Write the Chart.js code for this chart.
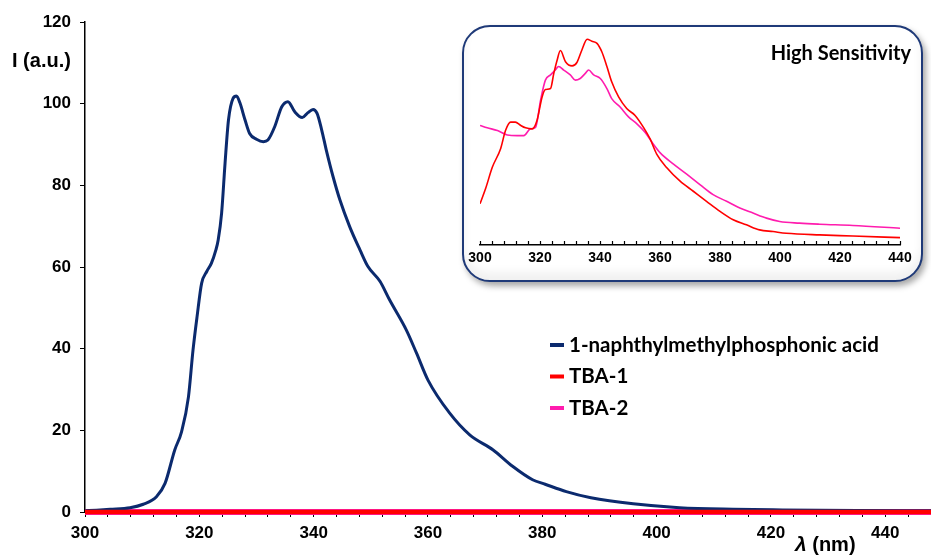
<!DOCTYPE html>
<html>
<head>
<meta charset="utf-8">
<script src="https://cdn.jsdelivr.net/npm/chart.js@4.4.1/dist/chart.umd.min.js"></script>
<style>
  body { margin: 0; background: #fff; }
  #wrap { position: relative; width: 931px; height: 558px; }
  #inset {
    position: absolute; left: 462px; top: 25px; width: 461px; height: 257px;
    box-sizing: border-box; border: 2px solid #1F3A78; border-radius: 28px;
    background: #fff; overflow: hidden;
    box-shadow: 3px 4px 6px rgba(0, 0, 0, 0.35), inset 0 -8px 10px rgba(0, 0, 0, 0.06);
  }
  #inset div { width: 100%; height: 100%; }
</style>
</head>
<body>
<div id="wrap">
  <canvas id="mainChart"></canvas>
  <div id="inset"><div><canvas id="insetChart"></canvas></div></div>
</div>
<script>
// emission spectrum of 1-naphthylmethylphosphonic acid (nm, a.u.)
const naphWl = [300, 302, 304.4, 307.9, 310.2, 312.5, 314, 315.7, 316.9, 318.1,
  318.9, 319.6, 320.4, 321.3, 322.1, 322.9, 323.3, 323.9, 324.5, 325.1,
  325.9, 326.5, 327.1, 328, 328.8, 330, 331.2, 332, 333.2, 334.4,
  335.5, 336.7, 338, 339, 339.9, 340.6, 341.4, 342.2, 343.4, 344.6,
  346.3, 348.1, 349.5, 351.6, 353.3, 356.2, 358, 360, 363.8, 367.3,
  371.4, 374.8, 378.3, 380.5, 384.2, 388.5, 395.9, 404, 413.4, 422,
  435, 448];
const naphI = [0.3, 0.45, 0.66, 1.05, 1.9, 3.75, 7.0, 15.2, 19.7, 28.2,
  39.7, 47.8, 56.0, 58.9, 60.9, 64.2, 66.6, 73.2, 85.4, 96.0,
  101.3, 101.9, 100.2, 96.0, 92.7, 91.3, 90.7, 91.1, 94.4, 99.2,
  100.5, 98.0, 96.6, 97.8, 98.6, 97.6, 93.6, 88.7, 82.1, 76.4,
  69.9, 64.2, 60.1, 56.5, 51.9, 44.6, 38.9, 32.3, 24.2, 18.9,
  15.2, 11.2, 7.9, 6.8, 5.0, 3.5, 2.0, 1.05, 0.66, 0.5,
  0.35, 0.3];

// TBA samples on the common scale: flat at zero
const tbaMainWl = [300, 448];
const tba1MainI = [0, 0];
const tba2MainI = [0, 0];

// high sensitivity traces (relative units)
const tba1Wl = [300, 301.9, 304.1, 306.9, 308.5, 310.2, 311.8, 313.5, 315.2, 317.4,
  319, 320.7, 321.8, 323.5, 324.6, 325.7, 326.8, 328.5, 330.7, 332.3,
  334, 335.7, 337.3, 339, 340.6, 342.3, 343.9, 346.2, 348.9, 351.7,
  354.5, 356.7, 358.9, 362.2, 366.7, 371.1, 375.5, 380, 384.4, 388.8,
  393.2, 397.7, 402.1, 413.2, 424.3, 440];
const tba1I = [19.6, 27, 37, 46, 54.5, 58.5, 58.5, 57, 55.8, 55.3,
  59.3, 70.5, 74, 74.5, 81.7, 88, 92.6, 87.3, 85.3, 86.9,
  93, 98, 97, 96, 92, 85, 77.7, 70.5, 65, 61.7,
  56, 50.5, 43.3, 36.9, 30.4, 25.6, 20.8, 16, 12, 9.6,
  7.2, 6.4, 5.6, 4.8, 4.3, 3.5];
const tba2Wl = [300, 302.4, 305.8, 309.1, 312.4, 314.6, 316.8, 318.5, 320.2, 321.8,
  323.5, 325.1, 326.2, 327.9, 330.1, 331.8, 333.4, 335.1, 336.2, 337.9,
  340.1, 342.3, 343.9, 346.7, 349.5, 352.3, 355, 357.8, 360, 364.5,
  368.9, 373.3, 377.7, 382.2, 386.6, 391, 395.5, 399.9, 406.5, 413.2,
  424.3, 440];
const tba2I = [56.9, 55.8, 54.5, 52.4, 52.1, 52.1, 55.3, 56, 69, 78.5,
  81, 83.3, 85, 83.3, 81, 78.5, 79.3, 81.7, 83.3, 81,
  79.3, 74.5, 69.7, 65.7, 61, 57.7, 53.7, 48, 44, 38.5,
  33.7, 28.8, 24, 20.8, 17.6, 15.2, 12.8, 11.2, 10.4, 9.9,
  9.3, 8];

const xMin = 300;
const xMax = 448;
const insetMax = 440;

const toPoints = (xs, ys) => xs.map((x, i) => ({ x: x, y: ys[i] }));

const navy = "#0B2A6E";
const red = "#FF0000";
const pink = "#FF1CAE";
const tickFont = { family: "'Liberation Sans', Arial, sans-serif", size: 17, weight: "bold" };

// axis titles are horizontal, so they are painted by hand
const axisTitles = {
  id: "axisTitles",
  afterDraw(chart) {
    const c = chart.ctx;
    c.save();
    c.fillStyle = "#000";
    c.textBaseline = "middle";
    c.font = "bold 20px 'Liberation Sans', Arial, sans-serif";
    c.fillText("I (a.u.)", 12, 61);
    let x = 795;
    c.font = "italic bold 21px 'Liberation Sans', Arial, sans-serif";
    c.fillText("λ", x, 545);
    x += c.measureText("λ").width;
    c.font = "bold 20px 'Liberation Sans', Arial, sans-serif";
    c.fillText(" (nm)", x, 545);
    c.restore();
  },
};

const seriesKey = {
  id: "seriesKey",
  afterDraw(chart) {
    const c = chart.ctx;
    c.save();
    c.font = "bold 20.5px Lato, sans-serif";
    c.textBaseline = "middle";
    chart.data.datasets.forEach((ds, i) => {
      const y = 345 + i * 31.5;
      c.fillStyle = ds.borderColor;
      c.fillRect(550, y - 2, 14, 4);
      c.fillStyle = "#000";
      c.fillText(ds.label, 569, y);
    });
    c.restore();
  },
};

// keep the tick label padding from shrinking the plot sideways
const noSidePadding = (scale) => {
  scale.paddingLeft = 0;
  scale.paddingRight = 0;
};

new Chart(document.getElementById("mainChart"), {
  type: "line",
  data: {
    datasets: [
      {
        label: "1-naphthylmethylphosphonic acid",
        data: toPoints(naphWl, naphI),
        borderColor: navy,
        borderWidth: 3,
        cubicInterpolationMode: "monotone",
        order: 1,
      },
      {
        label: "TBA-1",
        data: toPoints(tbaMainWl, tba1MainI),
        borderColor: red,
        borderWidth: 4.5,
        clip: false,
        order: 0,
      },
      {
        label: "TBA-2",
        data: toPoints(tbaMainWl, tba2MainI),
        borderColor: pink,
        borderWidth: 6,
        clip: false,
        order: 2,
      },
    ],
  },
  options: {
    responsive: true,
    maintainAspectRatio: false,
    animation: false,
    elements: { point: { radius: 0 } },
    layout: { padding: { top: 22, right: 0, left: 0, bottom: 0 } },
    plugins: { legend: { display: false }, tooltip: { enabled: false } },
    scales: {
      x: {
        type: "linear",
        min: xMin,
        max: xMax,
        afterFit: (scale) => {
          scale.height = 46;
          noSidePadding(scale);
        },
        grid: { drawOnChartArea: false, tickLength: 5, color: "#000", tickColor: "#000" },
        border: { color: "#000", width: 1.5 },
        ticks: {
          stepSize: 4,
          autoSkip: false,
          maxRotation: 0,
          padding: 6,
          color: "#000",
          font: tickFont,
          callback: (v) => (v % 20 === 0 ? v : ""),
        },
      },
      y: {
        min: 0,
        max: 120,
        afterFit: (scale) => { scale.width = 85; },
        grid: { drawOnChartArea: false, tickLength: 5, color: "#000", tickColor: "#000" },
        border: { color: "#000", width: 1.5 },
        ticks: { stepSize: 20, padding: 9, color: "#000", font: tickFont },
      },
    },
  },
  plugins: [axisTitles, seriesKey],
});

// inset: minor ticks point up into the plot, plus the corner title
const insetExtras = {
  id: "insetExtras",
  afterDraw(chart) {
    const c = chart.ctx;
    const xs = chart.scales.x;
    const base = chart.scales.y.getPixelForValue(0);
    c.save();
    c.strokeStyle = "#000";
    c.lineWidth = 1.2;
    xs.ticks.forEach((t) => {
      const px = Math.round(xs.getPixelForValue(t.value)) + 0.5;
      c.beginPath();
      c.moveTo(px, base);
      c.lineTo(px, base - 4);
      c.stroke();
    });
    c.fillStyle = "#000";
    c.font = "bold 20px Lato, sans-serif";
    c.textAlign = "right";
    c.textBaseline = "middle";
    c.fillText("High Sensitivity", 447, 27);
    c.restore();
  },
};

new Chart(document.getElementById("insetChart"), {
  type: "line",
  data: {
    datasets: [
      {
        label: "TBA-1",
        data: toPoints(tba1Wl, tba1I),
        borderColor: red,
        borderWidth: 1.6,
        cubicInterpolationMode: "monotone",
      },
      {
        label: "TBA-2",
        data: toPoints(tba2Wl, tba2I),
        borderColor: pink,
        borderWidth: 1.6,
        cubicInterpolationMode: "monotone",
      },
    ],
  },
  options: {
    responsive: true,
    maintainAspectRatio: false,
    animation: false,
    elements: { point: { radius: 0 } },
    layout: { padding: { top: 8, right: 21, left: 16, bottom: 0 } },
    plugins: { legend: { display: false }, tooltip: { enabled: false } },
    scales: {
      x: {
        type: "linear",
        min: xMin,
        max: insetMax,
        afterFit: (scale) => {
          scale.height = 35;
          noSidePadding(scale);
        },
        grid: { display: false, drawTicks: false },
        border: { color: "#000", width: 1.5 },
        ticks: {
          stepSize: 4,
          autoSkip: false,
          maxRotation: 0,
          padding: 5,
          color: "#000",
          font: { family: "'Liberation Sans', Arial, sans-serif", size: 14, weight: "bold" },
          callback: (v) => (v % 20 === 0 ? v : ""),
        },
      },
      y: { display: false, min: 0, max: 100 },
    },
  },
  plugins: [insetExtras],
});
</script>
</body>
</html>
